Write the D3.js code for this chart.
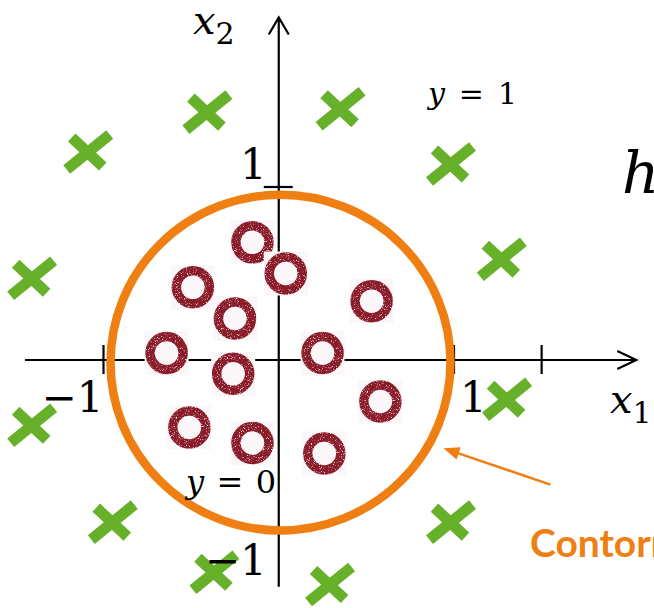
<!DOCTYPE html>
<html>
<head>
<meta charset="utf-8">
<script src="https://cdn.jsdelivr.net/npm/d3@7"></script>
<style>
  body { margin: 0; background: #fff; }
  svg { display: block; }
</style>
</head>
<body>
<div id="chart"></div>
<script>
// points in x1/x2 units
var ringX = [-0.15, 0.04, -0.49, -0.25, 0.53, -0.64, -0.26, 0.25, 0.58, -0.51, -0.15, 0.26];
var ringY = [0.68, 0.50, 0.42, 0.24, 0.34, 0.04, -0.08, 0.04, -0.24, -0.39, -0.48, -0.54];
var crossX = [-0.41, -1.09, -1.41, 0.35, 0.98, 1.27, -1.41, -0.95, -0.37, 0.29, 0.98, 1.30];
var crossY = [1.43, 1.20, 0.47, 1.45, 1.13, 0.58, -0.38, -0.94, -1.23, -1.30, -0.94, -0.23];
var xTicks = [-1, 1, 1.5];
var yTicks = [1, -1];
var xTickLabels = ["\u22121", "1", ""];
var yTickLabels = ["1", "\u22121"];
var circleCenter = [0.01, -0.015];
var circleR = 0.97;

var width = 654, height = 608;

var svg = d3.select("#chart")
    .append("svg")
    .attr("width", width)
    .attr("height", height);

var x = d3.scaleLinear().domain([-1, 1]).range([103.5, 454]);
var y = d3.scaleLinear().domain([-1, 1]).range([533, 187]);

var orange = "#ef7f12", green = "#67b12a", wine = "#8a1b2b";

// speckled look of the scanned rings
var defs = svg.append("defs");
var f = defs.append("filter").attr("id", "rough")
    .attr("x", "-20%").attr("y", "-20%").attr("width", "140%").attr("height", "140%");
f.append("feTurbulence").attr("type", "fractalNoise").attr("baseFrequency", 1.1)
    .attr("numOctaves", 2).attr("seed", 3).attr("result", "n");
f.append("feColorMatrix").attr("in", "n").attr("type", "matrix")
    .attr("values", "0 0 0 0 1  0 0 0 0 1  0 0 0 0 1  4 0 0 0 -2.3").attr("result", "holes");
f.append("feComposite").attr("in", "SourceGraphic").attr("in2", "holes")
    .attr("operator", "out");

// axes
var x0 = x(0), y0 = y(0);
var axisG = svg.append("g").attr("stroke", "#000").attr("stroke-width", 2.2).attr("fill", "none");
var xEnd = x(2.04), yEnd = y(1.98);
axisG.append("line").attr("x1", x(-1.448)).attr("x2", xEnd).attr("y1", y0).attr("y2", y0);
axisG.append("line").attr("x1", x0).attr("x2", x0).attr("y1", y(-1.31)).attr("y2", yEnd);
axisG.append("path").attr("d", "M" + (xEnd - 19) + "," + (y0 - 9) + "L" + xEnd + "," + y0 + "L" + (xEnd - 19) + "," + (y0 + 9));
axisG.append("path").attr("d", "M" + (x0 - 10) + "," + (yEnd + 17) + "L" + x0 + "," + yEnd + "L" + (x0 + 10) + "," + (yEnd + 17));

axisG.selectAll(".xt")
    .data(xTicks)
    .enter()
    .append("line")
    .attr("x1", function (d) { return x(d) })
    .attr("x2", function (d) { return x(d) })
    .attr("y1", y0 - 15)
    .attr("y2", y0 + 14);
axisG.selectAll(".yt")
    .data(yTicks)
    .enter()
    .append("line")
    .attr("y1", function (d) { return y(d) })
    .attr("y2", function (d) { return y(d) })
    .attr("x1", x0 - 15)
    .attr("x2", x0 + 14);

// decision boundary
svg.append("ellipse")
    .attr("cx", x(circleCenter[0]))
    .attr("cy", y(circleCenter[1]))
    .attr("rx", x(circleCenter[0] + circleR) - x(circleCenter[0]))
    .attr("ry", y(circleCenter[1]) - y(circleCenter[1] + circleR))
    .attr("fill", "none")
    .attr("stroke", orange)
    .attr("stroke-width", 8.5);

// class 0 rings
var rings = svg.selectAll(".ring")
    .data(ringX)
    .enter()
    .append("g")
    .attr("transform", function (d, i) { return "translate(" + x(d) + "," + y(ringY[i]) + ")" });
rings.append("rect")
    .attr("x", -22).attr("y", -22).attr("width", 44).attr("height", 44)
    .attr("fill", "#fbf6f7");
rings.append("circle")
    .attr("r", 16.5)
    .attr("fill", "none")
    .attr("stroke", wine)
    .attr("stroke-width", 9.5)
    .attr("filter", "url(#rough)");

// class 1 crosses
var crosses = svg.selectAll(".cross")
    .data(crossX)
    .enter()
    .append("g")
    .attr("transform", function (d, i) { return "translate(" + x(d) + "," + y(crossY[i]) + ")" })
    .attr("stroke", green)
    .attr("stroke-width", 11);
crosses.append("line").attr("x1", -21).attr("y1", 17).attr("x2", 22).attr("y2", -18);
crosses.append("line").attr("x1", -16).attr("y1", -15).attr("x2", 15).attr("y2", 14);

// labels
var serif = "'DejaVu Serif', serif";
svg.selectAll(".xl")
    .data(xTicks.slice(0, 2))
    .enter()
    .append("text")
    .attr("x", function (d) { return d < 0 ? x(d) : x(d) + 6 })
    .attr("y", y0 + 52)
    .attr("text-anchor", function (d) { return d < 0 ? "end" : "start" })
    .attr("font-family", serif)
    .attr("font-size", 42)
    .text(function (d, i) { return xTickLabels[i] });
svg.selectAll(".yl")
    .data(yTicks)
    .enter()
    .append("text")
    .attr("x", x0 - 12)
    .attr("y", function (d) { return d > 0 ? y(d) - 8 : y(d) + 42 })
    .attr("text-anchor", "end")
    .attr("font-family", serif)
    .attr("font-size", 42)
    .text(function (d, i) { return yTickLabels[i] });

var t2 = svg.append("text").attr("x", 193).attr("y", 34).attr("font-family", serif).attr("font-size", 40);
t2.append("tspan").attr("font-style", "italic").text("x");
t2.append("tspan").attr("dy", 10).attr("font-size", 30).text("2");

var t1 = svg.append("text").attr("x", 610).attr("y", 413).attr("font-family", serif).attr("font-size", 40);
t1.append("tspan").attr("font-style", "italic").text("x");
t1.append("tspan").attr("dy", 10).attr("font-size", 30).text("1");

function eqLabel(px, py, val, len, size) {
    var t = svg.append("text").attr("x", px).attr("y", py)
        .attr("font-family", serif).attr("font-size", size)
        .attr("textLength", len).attr("lengthAdjust", "spacing");
    t.append("tspan").attr("font-style", "italic").text("y");
    t.append("tspan").text(" = " + val);
}
eqLabel(428, 104, "1", 89, 30);
eqLabel(186, 493, "0", 90, 32);

svg.append("text")
    .attr("x", 622).attr("y", 193)
    .attr("font-family", serif).attr("font-style", "italic")
    .attr("font-size", 58)
    .text("h");

// annotation arrow
var a0 = [x(1.55), y(-0.72)], a1 = [x(0.94), y(-0.51)];
var ang = Math.atan2(a1[1] - a0[1], a1[0] - a0[0]);
svg.append("line")
    .attr("x1", a0[0]).attr("y1", a0[1])
    .attr("x2", a1[0] - 12 * Math.cos(ang)).attr("y2", a1[1] - 12 * Math.sin(ang))
    .attr("stroke", orange).attr("stroke-width", 2.5);
var hl = 16, hw = 6.5;
var bx = a1[0] - hl * Math.cos(ang), by = a1[1] - hl * Math.sin(ang);
svg.append("path")
    .attr("d", "M" + a1[0] + "," + a1[1] +
        "L" + (bx + hw * Math.sin(ang)) + "," + (by - hw * Math.cos(ang)) +
        "L" + (bx - hw * Math.sin(ang)) + "," + (by + hw * Math.cos(ang)) + "Z")
    .attr("fill", orange);

svg.append("text")
    .attr("x", 530).attr("y", 557)
    .attr("font-family", "Lato, 'Noto Sans', sans-serif")
    .attr("font-weight", "bold")
    .attr("font-size", 39)
    .attr("fill", orange)
    .text("Contorno");
</script>
</body>
</html>
